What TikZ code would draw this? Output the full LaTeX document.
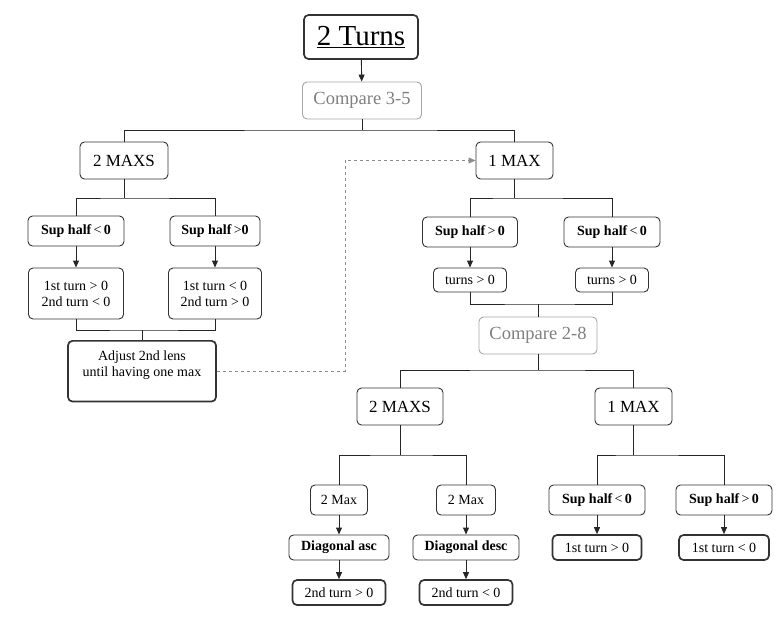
\documentclass[tikz,border=0pt]{standalone}
\usepackage{fontspec}
\setmainfont{Liberation Serif}
\usepackage{tikz}
\usetikzlibrary{arrows.meta}
\usetikzlibrary{positioning}

\begin{document}
\begin{tikzpicture}[x=1pt,y=-1pt,
    box/.style={draw=black!80, line width=0.9pt, rounded corners=4.5pt, fill=white, inner xsep=2pt, inner ysep=1pt, font=\fontsize{14}{16}\selectfont},
    head/.style={box, minimum height=37pt, font=\fontsize{17}{19}\selectfont},
    cmp/.style={box, draw=black!35, text=black!50, minimum height=37pt, font=\fontsize{18.5}{20}\selectfont},
    cond/.style={box, minimum height=30pt, font=\bfseries\fontsize{14}{16}\selectfont},
    res/.style={box, minimum height=24pt},
    leaf/.style={box, line width=1.7pt, minimum height=25pt},
    arr/.style={-{Triangle[length=7pt,width=6pt]}},
    link/.style={dash pattern=on 3pt off 3pt, draw=black!45, -{Triangle[length=7pt,width=6pt]}}]
  \useasboundingbox (0,0) rectangle (779,619);

  \node[box, line width=1.7pt, minimum width=114pt, minimum height=44pt, font=\fontsize{29}{31}\selectfont] (turns) at (361,37) {\underline{2 Turns}};
  \node[cmp, minimum width=119pt] (cmp35) at (362,100.5) {Compare 3-5};

  \node[head, minimum width=88pt] (maxsA) at (124,160.5) {2 MAXS};
  \node[cond, minimum width=96pt] (shA1) at (76,231) {Sup half\,\mdseries<\,\bfseries 0};
  \node[cond, minimum width=90pt] (shA2) at (215,231) {Sup half\,\mdseries>\bfseries0};
  \node[box, minimum width=95pt, minimum height=51pt, align=center] (tA1) at (76,293.5) {1st turn > 0\\2nd turn < 0};
  \node[box, minimum width=93pt, minimum height=51pt, align=center] (tA2) at (215,293.5) {1st turn < 0\\2nd turn > 0};
  \node[box, line width=1.7pt, minimum width=148pt, anchor=north, align=center, inner ysep=10pt, text depth=15pt] (adj) at (142,340) {Adjust 2nd lens\\until having one max};

  \node[head, minimum width=77pt] (oneA) at (514.5,160.5) {1 MAX};
  \node[cond, minimum width=95pt] (shB1) at (470,232) {Sup half\,\mdseries>\,\bfseries 0};
  \node[cond, minimum width=96pt] (shB2) at (612,232) {Sup half\,\mdseries<\,\bfseries 0};
  \node[res, minimum width=73pt] (tB1) at (470,280) {turns > 0};
  \node[res, minimum width=73pt] (tB2) at (612,280) {turns > 0};
  \node[cmp, minimum width=118pt] (cmp28) at (538,335.5) {Compare 2-8};

  \node[head, minimum width=86pt] (maxsC) at (400,406.5) {2 MAXS};
  \node[box, minimum width=57pt, minimum height=30pt] (mx1) at (339,500) {2 Max};
  \node[box, minimum width=59pt, minimum height=30pt] (mx2) at (466,500) {2 Max};
  \node[cond, minimum width=100pt, minimum height=25pt] (dg1) at (339,547.5) {Diagonal asc};
  \node[cond, minimum width=106pt, minimum height=25pt] (dg2) at (466,547.5) {Diagonal desc};
  \node[leaf, minimum width=93pt] (lf3) at (339,592.5) {2nd turn > 0};
  \node[leaf, minimum width=93pt] (lf4) at (466,592.5) {2nd turn < 0};

  \node[head, minimum width=77pt] (oneC) at (633.5,406.5) {1 MAX};
  \node[cond, minimum width=96pt] (shC1) at (597,500) {Sup half\,\mdseries<\,\bfseries 0};
  \node[cond, minimum width=96pt] (shC2) at (724,500) {Sup half\,\mdseries>\,\bfseries 0};
  \node[leaf, minimum width=89pt] (lf1) at (597,547.5) {1st turn > 0};
  \node[leaf, minimum width=90pt] (lf2) at (724,547.5) {1st turn < 0};

  \coordinate (b1) at (362,130);
  \coordinate (b2) at (124,198);
  \coordinate (b3) at (514.5,198);
  \coordinate (j1) at (142,330);
  \coordinate (j2) at (538,304);
  \coordinate (b4) at (538,370);
  \coordinate (b5) at (400,455);
  \coordinate (b6) at (633.5,455);
  \coordinate (bend) at (345,160.5);

  \begin{scope}[line width=0.9pt, draw=black!85]
    \draw (cmp35) -- (b1);
    \draw (maxsA) |- (b1) -| (oneA);
    \draw (maxsA) -- (b2);
    \draw (shA1) |- (b2) -| (shA2);
    \draw (oneA) -- (b3);
    \draw (shB1) |- (b3) -| (shB2);
    \draw (tA1) |- (j1) -| (tA2);
    \draw (j1) -- (adj);
    \draw (tB1) |- (j2) -| (tB2);
    \draw (j2) -- (cmp28);
    \draw (cmp28) -- (b4);
    \draw (maxsC) |- (b4) -| (oneC);
    \draw (maxsC) -- (b5);
    \draw (mx1) |- (b5) -| (mx2);
    \draw (oneC) -- (b6);
    \draw (shC1) |- (b6) -| (shC2);
    \foreach \a/\b in {turns/cmp35, shA1/tA1, shA2/tA2, shB1/tB1, shB2/tB2, mx1/dg1, mx2/dg2, dg1/lf3, dg2/lf4, shC1/lf1, shC2/lf2}
      \draw[arr] (\a) -- (\b);
  \end{scope}

  \draw[link] (adj.east) -| (bend) -- (oneA);
\end{tikzpicture}
\end{document}
